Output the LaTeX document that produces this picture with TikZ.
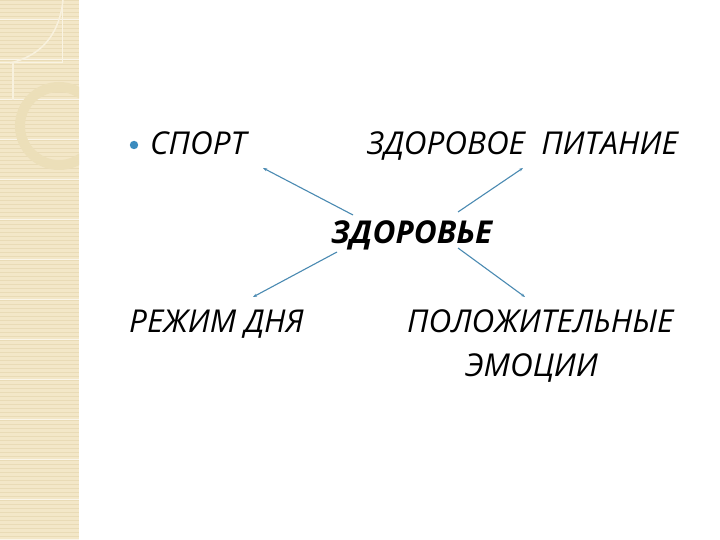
\documentclass[tikz,border=0pt]{standalone}
\usepackage{fontspec}
\setmainfont{Open Sans}
\usetikzlibrary{arrows.meta}
\definecolor{strip}{HTML}{F3E7C8}
\definecolor{stripline}{HTML}{E9DBB6}
\definecolor{ringc}{HTML}{ECDFB9}
\definecolor{arrowc}{HTML}{4A8AB2}
\definecolor{bulletc}{HTML}{3A8BBE}
\tikzset{
  lbl/.style={anchor=base west, inner sep=0pt, font=\fontsize{31.5}{36}\selectfont\itshape},
  center/.style={anchor=base west, inner sep=0pt, font=\fontsize{31.5}{36}\selectfont\bfseries\itshape},
  conn/.style={draw=arrowc, line width=1.1pt, -{Stealth[length=4pt,width=3pt]}},
}
\begin{document}
\begin{tikzpicture}[x=1pt,y=1pt]
\useasboundingbox (0,0) rectangle (720,540);
\fill[white] (0,0) rectangle (720,540);
% decorative strip
\fill[strip] (0,0) rectangle (79,540);
\foreach \i in {0,4,...,540} {\draw[stripline, line width=0.6pt] (0,\i) -- (79,\i);}
\foreach \i in {0,40,...,540} {\draw[white!60!strip, line width=1pt] (0,\i) -- (79,\i);}
\begin{scope}
\clip (0,0) rectangle (79,540);
\draw[ringc, line width=10pt] (59,414) circle (39);
\draw[white!50!strip, line width=1pt] (0,477) -- (62,477) -- (62,540);
\draw[white!40!strip, line width=1.5pt] (63,540) .. controls (60,510) and (45,485) .. (10,477);
\draw[white!40!strip, line width=2pt] (13,477) -- (13,440);
\end{scope}
% nodes
\fill[bulletc] (134,395) circle (4.2);
\node[lbl] (sport) at (150,385) {СПОРТ};
\node[lbl] (pit) at (367,385) {ЗДОРОВОЕ\ \ ПИТАНИЕ};
\node[center] (zd) at (331,296) {ЗДОРОВЬЕ};
\node[lbl] (rezh) at (129,207) {РЕЖИМ ДНЯ};
\node[lbl] (pol) at (407,207) {ПОЛОЖИТЕЛЬНЫЕ};
\node[lbl] (emo) at (465,163) {ЭМОЦИИ};
% connectors
\coordinate (a1) at (353,325); \coordinate (b1) at (263,372);
\coordinate (a2) at (458,328); \coordinate (b2) at (523,372);
\coordinate (a3) at (337,288); \coordinate (b3) at (253,243);
\coordinate (a4) at (458,292); \coordinate (b4) at (525,243);
\draw[conn] (a1) -- (b1);
\draw[conn] (a2) -- (b2);
\draw[conn] (a3) -- (b3);
\draw[conn] (a4) -- (b4);
\end{tikzpicture}
\end{document}
